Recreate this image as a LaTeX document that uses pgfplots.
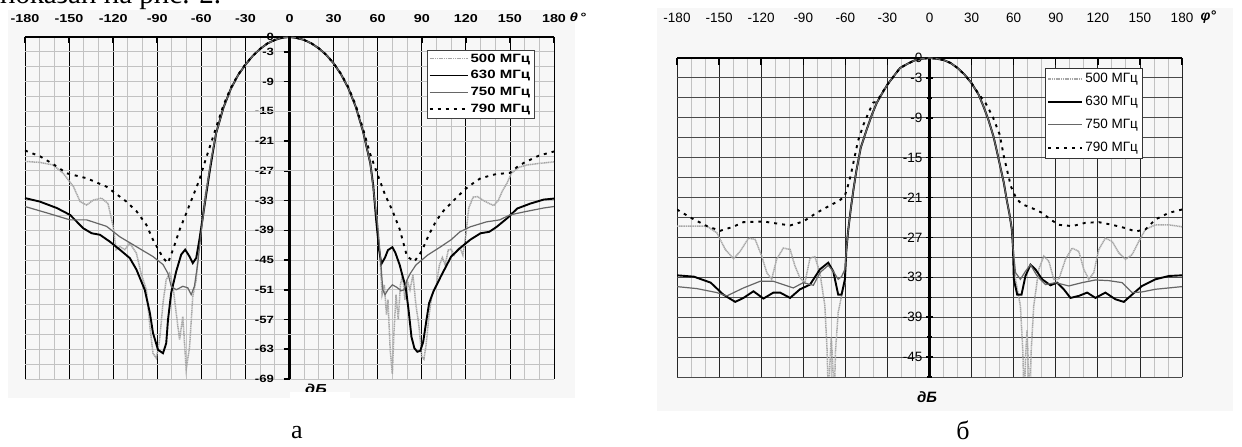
\documentclass[border=0pt]{standalone}
\usepackage{pgfplots}
\pgfplotsset{compat=1.18}
\usepackage{fontspec}
\setmainfont{Liberation Serif}
\newfontfamily\abfont[FakeStretch=1.25]{Liberation Sans Bold}
\newfontfamily\abifont[FakeStretch=1.25]{Liberation Sans Bold Italic}
\newfontfamily\bfont{Liberation Sans}
\newfontfamily\bbifont{Liberation Sans Bold Italic}
\definecolor{cfiv}{HTML}{A6A6A6}
\definecolor{csev}{HTML}{666666}
\definecolor{gridl}{HTML}{C2C2C2}
\definecolor{gridm}{HTML}{5A5A5A}
\definecolor{gridd}{HTML}{4A4A4A}
\definecolor{bgc}{HTML}{F7F7F7}
\pgfplotsset{
  sa/.style={cfiv, line width=1.5pt, dash pattern=on 1.2pt off 0.6pt},
  sb/.style={black, line width=1.9pt},
  sc/.style={csev, line width=1.2pt},
  sd/.style={black, line width=1.9pt, dash pattern=on 3pt off 5pt},
}
\begin{document}
\begin{tikzpicture}
\useasboundingbox (0pt,0pt) rectangle (1242pt,447pt);
\fill[white] (0pt,0pt) rectangle (1242pt,447pt);
\fill[bgc] (8pt,49pt) rectangle (575pt,437pt);
\fill[bgc] (657pt,36pt) rectangle (1233pt,439pt);
\node[anchor=base west, font=\fontsize{29}{29}\selectfont, inner sep=0pt] at (0pt,443pt) {показан на рис. 2.};
% ---------------- panel a ----------------
\begin{axis}[
  at={(25pt,68pt)}, anchor=south west, scale only axis,
  width=529pt, height=342pt,
  xmin=-180, xmax=180, ymin=-69, ymax=0,
  axis x line*=top, axis y line*=middle,
  hide obscured x ticks=false, hide obscured y ticks=false,
  xtick={-180,-150,-120,-90,-60,-30,0,30,60,90,120,150,180},
  xticklabels={-180,-150,-120,-90,-60,-30,0,30,60,90,120,150,180},
  minor xtick={-170,-160,-140,-130,-110,-100,-80,-70,-50,-40,-20,-10,10,20,40,50,70,80,100,110,130,140,160,170},
  ytick={0,-3,-9,-15,-21,-27,-33,-39,-45,-51,-57,-63,-69},
  yticklabels={0,-3,-9,-15,-21,-27,-33,-39,-45,-51,-57,-63,-69},
  minor ytick={-6,-12,-18,-24,-30,-36,-42,-48,-54,-60,-66},
  extra y ticks={-15,-27,-60}, extra y tick labels={},
  extra y tick style={grid=major, major grid style={gridm, line width=0.9pt}, tick style={draw=none}},
  grid=both,
  major x grid style={black, line width=0.8pt},
  minor x grid style={gridl, line width=0.9pt},
  major y grid style={gridl, line width=0.9pt},
  minor y grid style={gridl, line width=0.9pt},
  x axis line style={line width=1.8pt},
  y axis line style={line width=2.4pt},
  xtick align=inside, ytick align=outside,
  major tick length=6pt, minor tick length=0pt,
  tick style={black, line width=1.6pt},
  xticklabel style={font=\abfont\fontsize{11.5}{12}\selectfont, yshift=11pt},
  yticklabel style={font=\abfont\fontsize{10.5}{11}\selectfont, xshift=-6pt},
  legend image code/.code={\draw[#1] (0pt,0pt) -- (38pt,0pt);},
  legend style={at={(0.759,0.962)}, anchor=north west, draw=black!75,
    fill=white, font=\abfont\fontsize{12}{13}\selectfont, inner xsep=2pt, inner ysep=1.5pt,
    row sep=3pt, /tikz/every even column/.append style={column sep=0pt}},
  legend cell align=left,
]
\addplot[sa] coordinates {(-180,-25.1) (-170,-25.3) (-161,-25.8) (-154,-27.5) (-147,-30.2) (-142.5,-33.2) (-138,-33.9) (-133.5,-32.9) (-128,-32.5) (-123.5,-33.6) (-120,-38.2) (-118,-42.9) (-115.5,-42.3) (-112,-42.9) (-108.7,-41.6) (-104.2,-43.6) (-101,-47.7) (-97.4,-51) (-95,-58.4) (-92.9,-63.8) (-90.6,-64.8) (-88.4,-61.1) (-86.1,-53.7) (-83.9,-49) (-81.6,-47.7) (-79.3,-50.3) (-77.1,-55.7) (-74.8,-61.1) (-72.6,-56.4) (-70.3,-67.1) (-68,-62.5) (-65.8,-52.3) (-63.5,-49) (-61.3,-40.9) (-57.9,-32.9) (-54.5,-26.8) (-50,-19.5) (-45,-14.3) (-40,-10.5) (-35,-7.7) (-30,-5.6) (-25,-3.8) (-20,-2.4) (-15,-1.3) (-10,-0.6) (-5,-0.15) (0,0) (5,-0.2) (10,-0.6) (15,-1.3) (20,-2.3) (25,-3.6) (30,-5.3) (35,-7.5) (40,-10.3) (45,-14) (50,-19) (55,-25.5) (58,-33) (60,-38) (61.5,-44) (63,-52) (64.5,-50) (66,-56) (67,-53) (68.5,-63) (70,-68) (71,-60) (72.5,-52) (74,-57) (75.5,-50) (77,-48) (78.5,-53) (80,-49) (82,-51) (84,-48) (86,-54) (88,-58) (90,-64.5) (91.5,-65) (93,-62) (95,-56) (97,-52) (100,-50) (102,-46) (104,-44.5) (106,-46) (108,-43) (110,-42.8) (112,-44) (114,-43) (116,-42.5) (118,-44) (120,-40) (122,-34.5) (125,-32.3) (128,-32.2) (132,-33) (136,-33.6) (139,-34) (142,-33) (145,-31) (148,-29.5) (151,-27.5) (156,-26.3) (162,-25.8) (170,-25.5) (180,-25.2)};
\addlegendentry{500 МГц}
\addplot[sb] coordinates {(-180,-32.5) (-170,-33.2) (-158.4,-34.5) (-149.3,-35.9) (-140.3,-38.6) (-134.6,-39.6) (-129,-39.9) (-122.2,-41.3) (-115.5,-42.9) (-108.7,-44.6) (-104.2,-46.9) (-98.5,-51) (-95,-55.7) (-92.9,-59.7) (-89.5,-63.1) (-86.1,-63.8) (-83.9,-61.8) (-82.7,-57.1) (-80.5,-51.6) (-77.1,-47.3) (-73.7,-43.9) (-71,-42.9) (-68,-44.3) (-65.8,-45.6) (-63.5,-44.6) (-61.3,-40.9) (-57.9,-34.2) (-54.5,-27.5) (-52.3,-23.5) (-50,-19.5) (-45,-14.3) (-40,-10.5) (-35,-7.7) (-30,-5.6) (-25,-3.8) (-20,-2.4) (-15,-1.3) (-10,-0.6) (-5,-0.15) (0,0) (5,-0.2) (10,-0.6) (15,-1.3) (20,-2.3) (25,-3.6) (30,-5.3) (35,-7.5) (40,-10.3) (45,-14) (50,-19) (55,-25.5) (57,-30) (59,-37) (61,-43) (62.5,-45.8) (65,-44.5) (67,-43) (70,-42.4) (72,-43.5) (75,-46) (77,-48.3) (79,-50.3) (81,-55) (83,-60.5) (85,-62.8) (87,-63.5) (89,-63.3) (91,-61.5) (93,-57.5) (95,-53.7) (98,-51.3) (103,-48.3) (110,-44.3) (116,-42.6) (123,-40.9) (130,-39.6) (136,-39.3) (141,-38.3) (148,-36.6) (155,-34.6) (164,-33.6) (173,-32.8) (180,-32.6)};
\addlegendentry{630 МГц}
\addplot[sc] coordinates {(-180,-34.2) (-165,-35.5) (-149.3,-36.9) (-138,-36.9) (-124.5,-38.2) (-115.5,-40.3) (-104.2,-42.3) (-92.9,-44.3) (-86.1,-45.9) (-82.7,-47.7) (-80.5,-50.3) (-77.1,-51) (-72.6,-50.3) (-69.2,-50.6) (-66.9,-52) (-64.7,-50.3) (-62.4,-45.6) (-60.2,-39.6) (-56.8,-31.5) (-53.4,-24.8) (-50,-19.5) (-45,-14.3) (-40,-10.5) (-35,-7.7) (-30,-5.6) (-25,-3.8) (-20,-2.4) (-15,-1.3) (-10,-0.6) (-5,-0.15) (0,0) (5,-0.2) (10,-0.6) (15,-1.3) (20,-2.3) (25,-3.6) (30,-5.3) (35,-7.5) (40,-10.3) (45,-14) (50,-19) (55,-25.5) (58,-33) (60,-38) (62,-45) (63.5,-51) (65,-52) (67,-51) (70,-50) (73,-50.5) (76,-51.2) (78,-51) (80,-49) (82,-47.8) (86,-46) (94,-44) (103,-42.3) (110,-40.9) (116,-39.3) (123,-38.3) (134,-37.3) (143,-36.9) (150,-35.9) (161,-35.2) (173,-34.5) (180,-34.2)};
\addlegendentry{750 МГц}
\addplot[sd] coordinates {(-180,-22.9) (-169.6,-24.1) (-160.6,-25.7) (-151.6,-27.5) (-138,-28.5) (-124.5,-30.2) (-111,-33.2) (-104,-35.2) (-97.4,-37.9) (-92.9,-40.9) (-86,-44.6) (-82.7,-45.6) (-79.3,-42.9) (-74.8,-38.9) (-70.3,-35.6) (-65.8,-32.2) (-61.3,-28.8) (-57.9,-25.5) (-54.5,-22.4) (-50,-18.3) (-45,-13.8) (-40,-10.3) (-35,-7.6) (-30,-5.5) (-25,-3.8) (-20,-2.4) (-15,-1.3) (-10,-0.6) (-5,-0.15) (0,0) (5,-0.2) (10,-0.6) (15,-1.3) (20,-2.3) (25,-3.6) (30,-5.3) (35,-7.4) (40,-10.1) (45,-13.7) (50,-18.5) (55,-23.7) (60,-27.8) (65,-31.8) (70,-35) (75,-38.8) (80,-44.3) (85,-45.3) (90,-43.2) (95,-39.8) (100,-37) (105,-35) (110,-33.5) (115,-32) (120,-30.6) (125,-29.5) (130,-28.5) (140,-27.7) (150,-27.4) (155,-26.2) (160,-25.3) (170,-23.9) (180,-23.1)};
\addlegendentry{790 МГц}
\end{axis}
% ---------------- panel b ----------------
\begin{axis}[
  at={(677pt,70pt)}, anchor=south west, scale only axis,
  width=505pt, height=319pt,
  xmin=-180, xmax=180, ymin=-48, ymax=0,
  axis x line*=top, axis y line*=middle,
  hide obscured x ticks=false, hide obscured y ticks=false,
  xtick={-180,-150,-120,-90,-60,-30,0,30,60,90,120,150,180},
  xticklabels={-180,-150,-120,-90,-60,-30,0,30,60,90,120,150,180},
  minor xtick={-170,-160,-140,-130,-110,-100,-80,-70,-50,-40,-20,-10,10,20,40,50,70,80,100,110,130,140,160,170},
  ytick={0,-3,-9,-15,-21,-27,-33,-39,-45},
  yticklabels={0,-3,-9,-15,-21,-27,-33,-39,-45},
  minor ytick={-6,-12,-18,-24,-30,-36,-42,-48},
  grid=both,
  major x grid style={black!85, line width=0.8pt},
  minor x grid style={gridl, line width=0.9pt},
  major y grid style={gridd, line width=0.9pt},
  minor y grid style={gridd, line width=0.9pt},
  x axis line style={line width=1.8pt},
  y axis line style={line width=2.4pt},
  xtick align=inside, ytick align=center,
  major tick length=7pt, minor tick length=5pt,
  tick style={black, line width=1.4pt},
  minor x tick style={draw=none},
  xticklabel style={font=\bfont\fontsize{13.5}{14}\selectfont, yshift=32pt},
  yticklabel style={font=\bfont\fontsize{13.5}{14}\selectfont, xshift=0pt},
  legend image code/.code={\draw[#1] (0pt,0pt) -- (34pt,0pt);},
  legend style={at={(0.729,0.968)}, anchor=north west, draw=black!80,
    fill=white, font=\bfont\fontsize{13.5}{14}\selectfont, inner xsep=2pt, inner ysep=3pt,
    row sep=8pt, /tikz/every even column/.append style={column sep=0pt}},
  legend cell align=left,
]
\addplot[sa] coordinates {(-180,-25.3) (-168,-25.3) (-158.7,-25.3) (-151.6,-26.3) (-145.6,-28.8) (-139.7,-30.2) (-135,-29.1) (-129,-27.1) (-124.3,-27.3) (-119.6,-29.8) (-116,-32.3) (-112.5,-33.3) (-109,-30.3) (-104.2,-28.6) (-99.4,-28.8) (-95.9,-31.3) (-92.3,-33.1) (-88.8,-33.8) (-85.2,-30.1) (-81.7,-29.9) (-78.1,-32.3) (-74.6,-37.3) (-73,-44) (-72,-52) (-71,-46) (-70,-42) (-69,-46) (-68,-52) (-67,-44) (-65.1,-38.3) (-62.7,-35.8) (-60.3,-33.8) (-59.3,-29) (-58,-26) (-56,-22.5) (-54,-19.5) (-52,-16.8) (-49,-13.5) (-45,-10.9) (-41,-8.5) (-37.7,-6.8) (-34,-5.4) (-30,-4.0) (-25,-2.6) (-21,-1.5) (-15,-0.8) (-10,-0.3) (-5,-0.1) (0,0) (5,-0.1) (10,-0.3) (15,-0.75) (20,-1.5) (25,-2.5) (30,-3.8) (35,-5.5) (38.5,-7.3) (42,-9.3) (45.6,-11.8) (48,-14) (50.4,-16.3) (53,-18.8) (55,-21.3) (57,-23.5) (58.7,-25.8) (59.5,-28.5) (61.3,-33.3) (64.8,-37.3) (66.5,-44) (67.5,-52) (68.5,-45) (69.5,-41) (70.5,-46) (71.5,-52) (72.5,-44) (74.3,-37.3) (77.9,-31.8) (81.5,-29.8) (85.1,-30.6) (88.6,-33.3) (92.2,-33.3) (96.9,-30.3) (101.7,-28.6) (106.4,-29.1) (110,-31.8) (113.5,-33.3) (117.1,-32.3) (120.7,-28.8) (125.4,-27.1) (130.2,-27.6) (134.9,-29.3) (139.7,-30.3) (144.4,-29.6) (149.2,-27.6) (153.9,-25.8) (161,-25.1) (170.6,-25.1) (180,-25.4)};
\addlegendentry{500 МГц}
\addplot[sb] coordinates {(-180,-32.7) (-168,-32.9) (-156,-33.8) (-147,-35.6) (-138.5,-36.7) (-132.6,-36.1) (-125.5,-35.1) (-118.4,-36.2) (-111.3,-35.3) (-106.5,-35.3) (-99.4,-36.1) (-92.3,-34.8) (-85.2,-34.1) (-78.1,-31.8) (-72.2,-30.8) (-68.6,-32.1) (-65.1,-35.6) (-62.7,-35.6) (-60.3,-33.3) (-59.3,-29) (-58,-26) (-56,-22.5) (-54,-19.5) (-52,-16.8) (-49,-13.5) (-45,-10.9) (-41,-8.5) (-37.7,-6.8) (-34,-5.4) (-30,-4.0) (-25,-2.6) (-21,-1.5) (-15,-0.8) (-10,-0.3) (-5,-0.1) (0,0) (5,-0.1) (10,-0.3) (15,-0.75) (20,-1.5) (25,-2.5) (30,-3.8) (35,-5.5) (38.5,-7.3) (42,-9.3) (45.6,-11.8) (48,-14) (50.4,-16.3) (53,-18.8) (55,-21.3) (57,-23.5) (58.7,-25.8) (59.5,-28.5) (60.1,-33.3) (62.5,-35.6) (65.6,-35.6) (68.4,-32.8) (72,-31.1) (75.5,-31.8) (80.3,-33.3) (86.2,-34.2) (91,-33.8) (95.7,-34.8) (100.5,-36.1) (106.4,-35.8) (112.4,-35.3) (118.3,-36.1) (125.4,-35.3) (132.5,-36.3) (138.5,-36.7) (144.4,-35.6) (151.5,-34.3) (161,-33.3) (170.6,-32.8) (180,-32.7)};
\addlegendentry{630 МГц}
\addplot[sc] coordinates {(-180,-34.4) (-165.8,-34.7) (-151.6,-35.3) (-144.5,-35.8) (-132.6,-34.6) (-120.8,-33.6) (-111.3,-33.6) (-104.2,-34.1) (-97.1,-34.6) (-90,-33.8) (-82.8,-34.2) (-78.1,-32.3) (-72.2,-31.2) (-68.6,-32.1) (-65.1,-33.3) (-62.7,-32.9) (-60.3,-31.8) (-59.3,-29) (-58,-26) (-56,-22.5) (-54,-19.5) (-52,-16.8) (-49,-13.5) (-45,-10.9) (-41,-8.5) (-37.7,-6.8) (-34,-5.4) (-30,-4.0) (-25,-2.6) (-21,-1.5) (-15,-0.8) (-10,-0.3) (-5,-0.1) (0,0) (5,-0.1) (10,-0.3) (15,-0.75) (20,-1.5) (25,-2.5) (30,-3.8) (35,-5.5) (38.5,-7.3) (42,-9.3) (45.6,-11.8) (48,-14) (50.4,-16.3) (53,-18.8) (55,-21.3) (57,-23.5) (58.7,-25.8) (59.5,-28.5) (61.3,-32.3) (64.8,-33.3) (68.4,-32.1) (72,-31.1) (76.7,-32.8) (82.7,-34.1) (89.8,-33.8) (99.3,-34.3) (108.8,-33.8) (118.3,-33.4) (127.8,-33.5) (137.3,-33.8) (144.4,-35.3) (151.5,-35.2) (161,-34.8) (170.6,-34.6) (180,-34.4)};
\addlegendentry{750 МГц}
\addplot[sd] coordinates {(-180,-22.8) (-170.5,-24) (-158.7,-25.3) (-149.2,-26) (-140,-25.4) (-132.6,-24.7) (-118.4,-24.6) (-109,-24.9) (-99.4,-25.2) (-90,-24.6) (-80.5,-23.3) (-71,-22.2) (-63.9,-21.4) (-60.5,-20.8) (-58.5,-19.5) (-56,-17.5) (-53.5,-15) (-51,-12.5) (-47,-10) (-43,-8) (-40,-6.7) (-37.7,-6.6) (-34,-5.3) (-30,-4.0) (-25,-2.6) (-21,-1.5) (-15,-0.8) (-10,-0.3) (-5,-0.1) (0,0) (5,-0.1) (10,-0.3) (15,-0.75) (20,-1.5) (25,-2.5) (30,-3.8) (35,-5.4) (40,-6.8) (45,-8.8) (50,-11.5) (53,-14.8) (56,-17.5) (58,-19.3) (62,-21.2) (66,-22) (73.2,-22.6) (80.3,-23.3) (86.2,-24.3) (92.2,-25.1) (101.7,-25.3) (111.2,-24.8) (120.7,-24.7) (130.2,-25.1) (139.7,-25.6) (146.8,-26.1) (153.9,-25.8) (161,-24.3) (170.6,-23.3) (180,-22.8)};
\addlegendentry{790 МГц}
\end{axis}
% labels outside
\node[font=\abifont\fontsize{12}{12}\selectfont, anchor=west] at (566pt,430pt) {θ\,°};
\node[font=\bbifont\fontsize{14}{14}\selectfont, anchor=west] at (1197pt,430pt) {φ°};
\node[font=\abifont\fontsize{13}{13}\selectfont] at (316pt,58pt) {дБ};
\fill[white] (290pt,0pt) rectangle (350pt,55pt);
\node[font=\bbifont\fontsize{15}{15}\selectfont] at (927pt,50pt) {дБ};
\node[font=\fontsize{26}{26}\selectfont] at (297pt,14pt) {а};
\node[font=\fontsize{26}{26}\selectfont] at (963pt,17pt) {б};
\end{tikzpicture}
\end{document}
